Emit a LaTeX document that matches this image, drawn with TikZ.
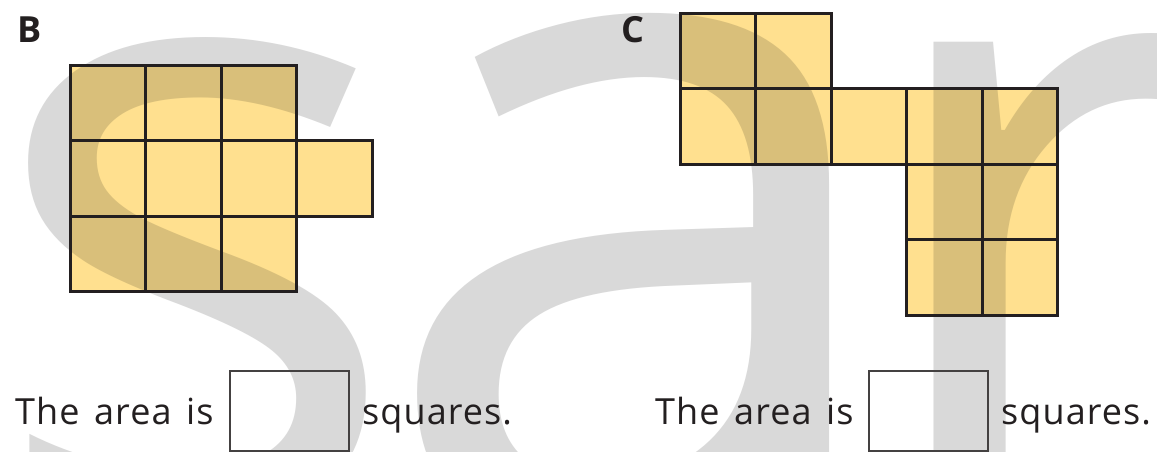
\documentclass[tikz,border=0pt]{standalone}
\usepackage{fontspec}
\setmainfont{Open Sans}
\newfontfamily\wmfont{Open Sans}
\newfontfamily\sentfont[LetterSpace=3,WordSpace=1.4]{Open Sans}
\definecolor{wm}{HTML}{D9D9D9}
\definecolor{yel}{HTML}{FFE08F}
\definecolor{dyel}{HTML}{D9BF7A}
\definecolor{ink}{HTML}{231F20}
\newcommand\drawwatermark[2]{%
  \node[wmletter,text=#1] (#2s) at (-18,522) {s};
  \node[wmletter,text=#1,font=\wmfont\fontsize{960}{960}\selectfont] (#2a) at (373,535) {a};
  \node[wmletter,text=#1] (#2r) at (857,518) {r};
}
\begin{document}
\begin{tikzpicture}[x=1pt,y=-1pt,
  wmletter/.style={inner sep=0pt,anchor=base west,font=\wmfont\fontsize{890}{890}\selectfont},
  cell/.style={draw=ink,line width=3pt,line join=miter},
  label/.style={inner sep=0pt,anchor=base west,text=ink,font=\fontsize{36}{40}\selectfont\bfseries},
  sentence/.style={inner sep=0pt,anchor=base west,text=ink,font=\sentfont\fontsize{36}{40}\selectfont},
  ansbox/.style={draw=ink!85,line width=2pt,fill=none,inner sep=0pt,minimum width=119pt,minimum height=80pt,anchor=north west}]
\useasboundingbox (0,0) rectangle (1157,451);
\clip (0,0) rectangle (1157,451);
\fill[white] (0,0) rectangle (1157,451);
% watermark
\drawwatermark{wm}{g}
% yellow shapes
\fill[yel] (70,65) rectangle ++(226.5,226.5) (296.5,140.5) rectangle ++(75.5,75.5)
  (680,13) rectangle ++(151,75.5) (680,88.5) rectangle ++(377.5,75.5) (906.5,164) rectangle ++(151,151);
\begin{scope}
  \clip (70,65) rectangle ++(226.5,226.5) (296.5,140.5) rectangle ++(75.5,75.5)
  (680,13) rectangle ++(151,75.5) (680,88.5) rectangle ++(377.5,75.5) (906.5,164) rectangle ++(151,151);
  \drawwatermark{dyel}{d}
\end{scope}
% grid B
\foreach \i/\j in {0/0,1/0,2/0,0/1,1/1,2/1,3/1,0/2,1/2,2/2}
  \draw[cell] (70+75.5*\i,65+75.5*\j) rectangle ++(75.5,75.5);
% grid C
\foreach \i/\j in {0/0,1/0,0/1,1/1,2/1,3/1,4/1,3/2,4/2,3/3,4/3}
  \draw[cell] (680+75.5*\i,13+75.5*\j) rectangle ++(75.5,75.5);
% labels
\node[label] (lblB) at (17,42) {B};
\node[label] (lblC) at (621,42) {C};
% sentences
\node[sentence] (areaB) at (15,424) {The area is};
\node[ansbox] (boxB) at (229,370) {};
\node[sentence] (sqB) at (362,424) {squares.};
\node[sentence] (areaC) at (655,424) {The area is};
\node[ansbox] (boxC) at (868,370) {};
\node[sentence] (sqC) at (1001,424) {squares.};
\end{tikzpicture}
\end{document}
